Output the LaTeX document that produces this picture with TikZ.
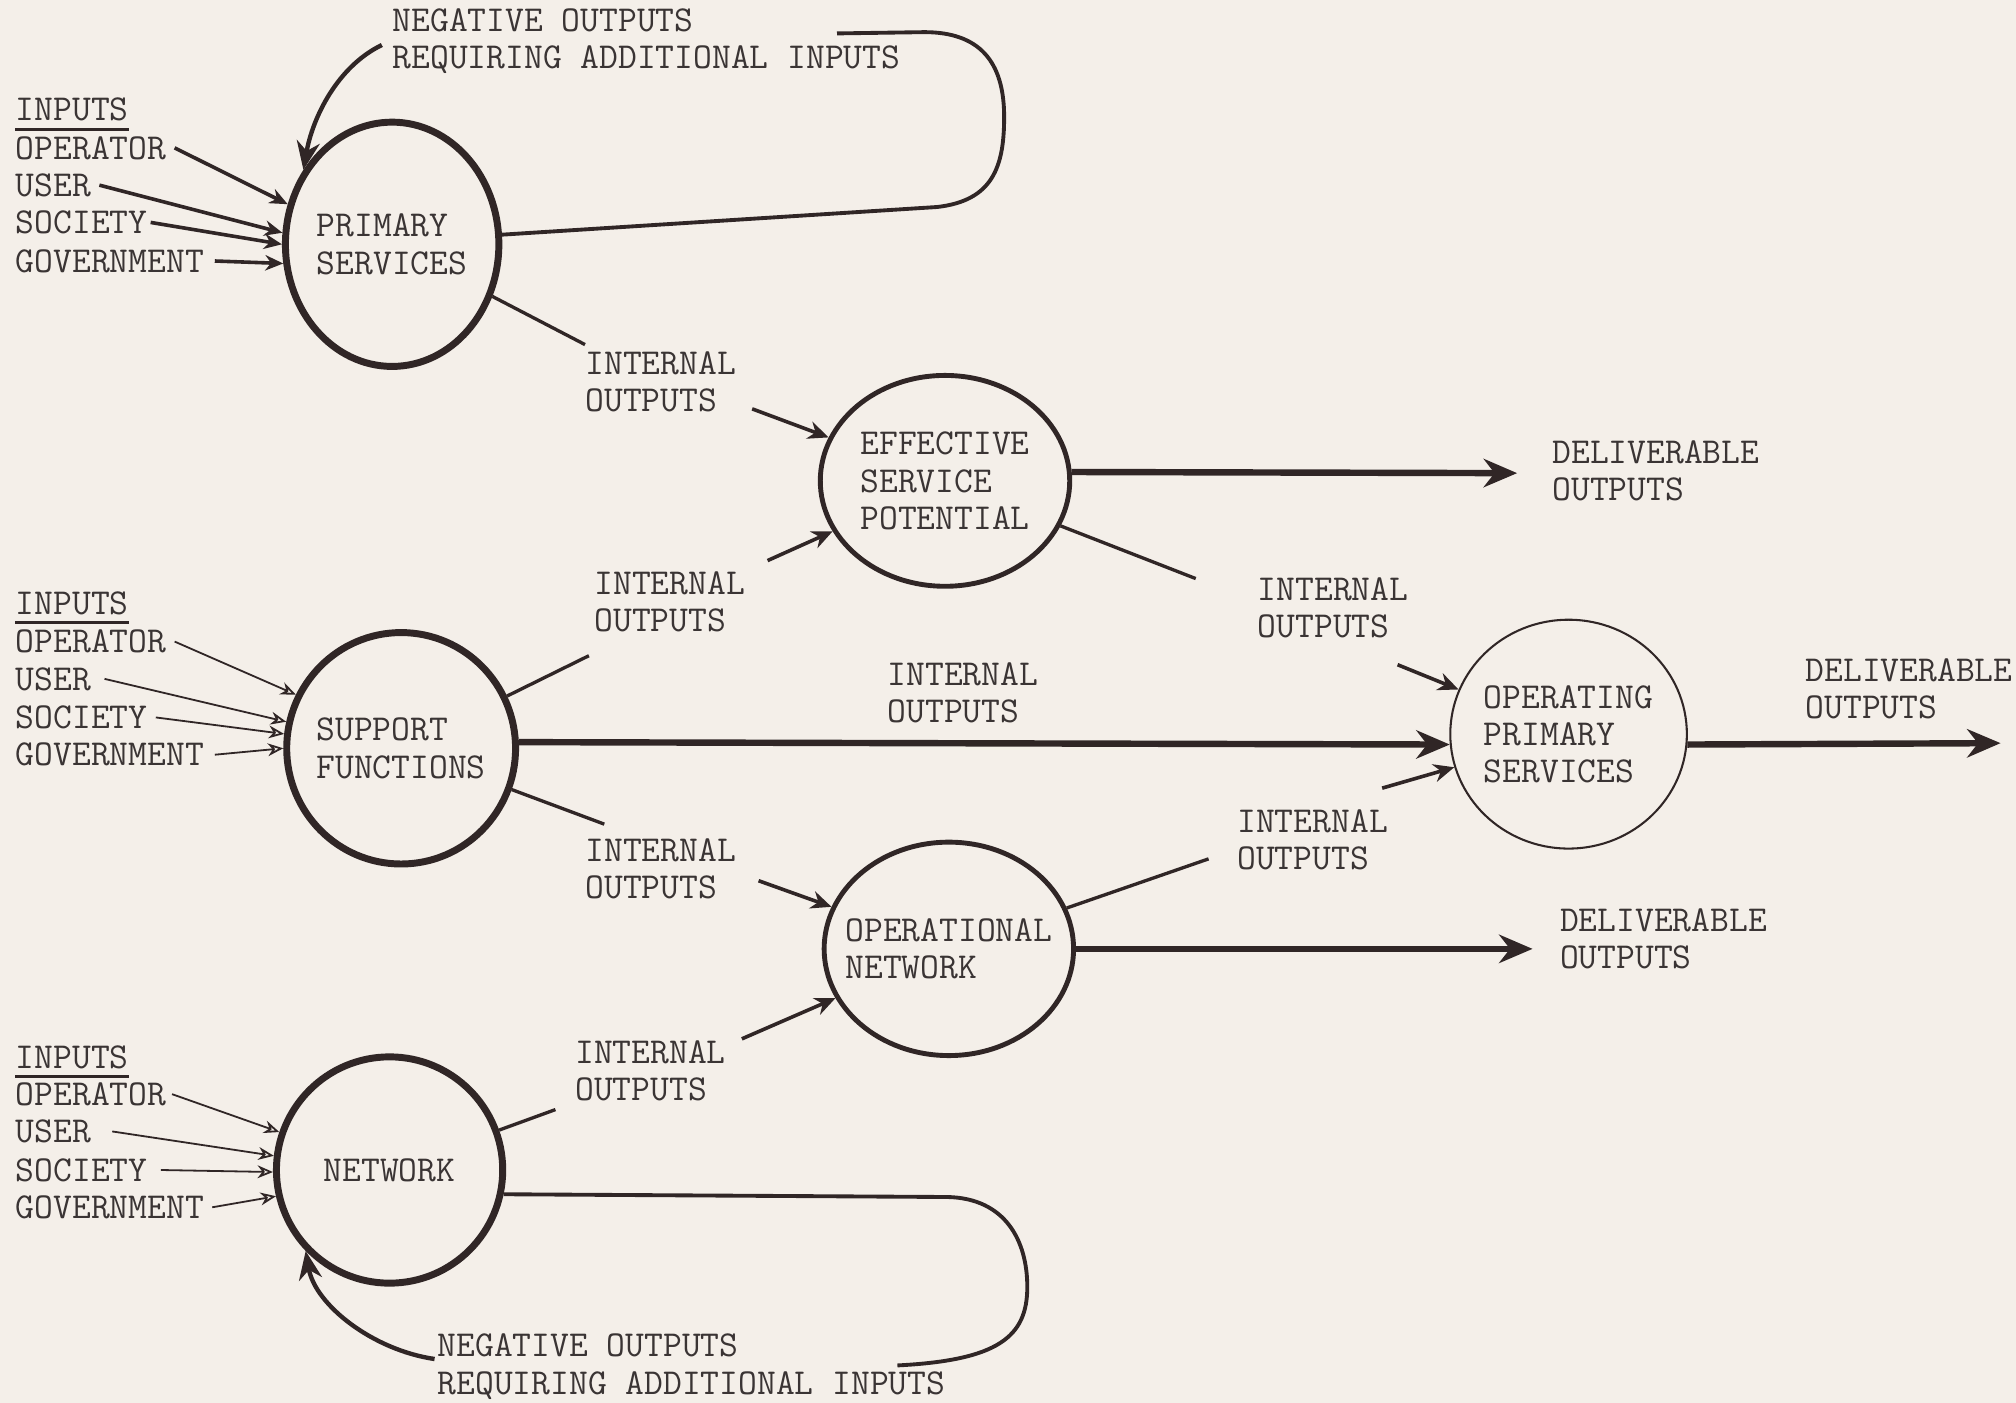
\documentclass[tikz,border=0pt]{standalone}
\usetikzlibrary{shapes.geometric,arrows.meta}
\definecolor{bgc}{RGB}{244,239,233}
\definecolor{inkc}{RGB}{48,38,38}
\definecolor{textc}{RGB}{58,52,52}
\newcommand{\tw}{\fontsize{14.2}{14.5}\selectfont\ttfamily}
\tikzset{
  circ/.style={ellipse, draw=inkc, inner sep=0pt},
  thickcirc/.style={circ, line width=2.7pt},
  medcirc/.style={circ, line width=1.9pt},
  thincirc/.style={circ, line width=0.8pt},
  lbl/.style={font=\tw, text=textc, inner sep=0pt, anchor=west, align=left},
  ctext/.style={font=\tw, text=textc, inner sep=0pt, align=left},
  heavy/.style={draw=inkc, line width=2.5pt, -{Stealth[length=13pt,width=11pt]}},
  loopline/.style={draw=inkc, line width=1.5pt},
  looparrow/.style={draw=inkc, line width=1.7pt, -{Stealth[length=11pt,width=9pt]}},
  outline/.style={draw=inkc, line width=1.3pt},
  inarrow/.style={draw=inkc, line width=1.4pt, -{Stealth[length=8pt,width=7pt]}},
  boldin/.style={draw=inkc, line width=1.4pt, -{Stealth[length=7pt,width=6pt]}},
  thinin/.style={draw=inkc, line width=0.7pt, -{Stealth[length=6pt,width=5pt,open]}},
  uline/.style={draw=inkc, line width=1.1pt},
}
\begin{document}
\begin{tikzpicture}[x=0.5pt,y=-0.5pt]
\fill[bgc] (0,0) rectangle (1568,1091);
\useasboundingbox (0,0) rectangle (1568,1091);

% circles
\node[thickcirc, minimum width=83pt, minimum height=95pt,
  label={[ctext]center:{PRIMARY\\SERVICES}}] (P) at (305,190) {};
\node[medcirc, minimum width=97pt, minimum height=82pt,
  label={[ctext]center:{EFFECTIVE\\SERVICE\\POTENTIAL}}] (E) at (735,374) {};
\node[thickcirc, minimum width=89pt, minimum height=90pt,
  label={[ctext]center:{SUPPORT\\FUNCTIONS}}] (S) at (312,582) {};
\node[thincirc, minimum width=92pt, minimum height=89pt,
  label={[ctext]center:{OPERATING\\PRIMARY\\SERVICES}}] (O) at (1220,571) {};
\node[medcirc, minimum width=97pt, minimum height=83pt,
  label={[ctext]center:{OPERATIONAL\\NETWORK}}] (W) at (738,738) {};
\node[thickcirc, minimum width=88pt, minimum height=88pt,
  label={[ctext]center:{NETWORK}}] (N) at (303,910) {};

% top labels
\node[lbl] (neg1) at (305,32) {NEGATIVE OUTPUTS\\REQUIRING ADDITIONAL INPUTS};
\node[lbl] (neg2) at (340,1063) {NEGATIVE OUTPUTS\\REQUIRING ADDITIONAL INPUTS};

% input groups
\node[lbl] (i1) at (12,85) {INPUTS};
\node[lbl] (o1) at (12,115) {OPERATOR};
\node[lbl] (u1) at (12,144) {USER};
\node[lbl] (s1) at (12,173) {SOCIETY};
\node[lbl] (g1) at (12,203) {GOVERNMENT};
\draw[uline] ([yshift=-3pt]i1.south west) -- ([yshift=-3pt]i1.south east);

\node[lbl] (i2) at (12,469) {INPUTS};
\node[lbl] (o2) at (12,499) {OPERATOR};
\node[lbl] (u2) at (12,528) {USER};
\node[lbl] (s2) at (12,558) {SOCIETY};
\node[lbl] (g2) at (12,587) {GOVERNMENT};
\draw[uline] ([yshift=-3pt]i2.south west) -- ([yshift=-3pt]i2.south east);

\node[lbl] (i3) at (12,822) {INPUTS};
\node[lbl] (o3) at (12,851) {OPERATOR};
\node[lbl] (u3) at (12,880) {USER};
\node[lbl] (s3) at (12,910) {SOCIETY};
\node[lbl] (g3) at (12,939) {GOVERNMENT};
\draw[uline] ([yshift=-3pt]i3.south west) -- ([yshift=-3pt]i3.south east);

% internal / deliverable labels
\node[lbl] (t1) at (455,297) {INTERNAL\\OUTPUTS};
\node[lbl] (t2) at (462,468) {INTERNAL\\OUTPUTS};
\node[lbl] (t3) at (690,539) {INTERNAL\\OUTPUTS};
\node[lbl] (t4) at (455,676) {INTERNAL\\OUTPUTS};
\node[lbl] (t5) at (447,833) {INTERNAL\\OUTPUTS};
\node[lbl] (t6) at (978,473) {INTERNAL\\OUTPUTS};
\node[lbl] (t7) at (962,653) {INTERNAL\\OUTPUTS};
\node[lbl] (d1) at (1207,366) {DELIVERABLE\\OUTPUTS};
\node[lbl] (d2) at (1404,536) {DELIVERABLE\\OUTPUTS};
\node[lbl] (d3) at (1213,730) {DELIVERABLE\\OUTPUTS};

% free ends
\coordinate (a1) at (455,268);
\coordinate (a2) at (585,318);
\coordinate (a3) at (458,510);
\coordinate (a4) at (597,436);
\coordinate (a5) at (1180,368);
\coordinate (a6) at (930,450);
\coordinate (a7) at (1087,517);
\coordinate (a8) at (1075,613);
\coordinate (a9) at (1556,578);
\coordinate (a10) at (470,641);
\coordinate (a11) at (590,685);
\coordinate (a12) at (432,863);
\coordinate (a13) at (577,808);
\coordinate (a14) at (940,668);
\coordinate (a15) at (1192,738);
\coordinate (lp1) at (651,26);
\coordinate (lp2) at (297,35);
\coordinate (lq1) at (698,1062);
\coordinate (lq2) at (338,1057);

% input arrows
\draw[boldin] ([xshift=3pt]o1.east) -- (P.159);
\draw[boldin] ([xshift=3pt]u1.east) -- (P.174);
\draw[boldin] ([xshift=1pt]s1.east) -- (P.180);
\draw[boldin] ([xshift=4pt]g1.east) -- (P.190);

\draw[thinin] ([xshift=3pt]o2.east) -- (S.153);
\draw[thinin] ([xshift=5pt]u2.east) -- (S.167);
\draw[thinin] ([xshift=3pt]s2.east) -- (S.173);
\draw[thinin] ([xshift=4pt]g2.east) -- (S.180);

\draw[thinin] ([xshift=2pt]o3.east) -- (N.161);
\draw[thinin] ([xshift=8pt]u3.east) -- (N.173);
\draw[thinin] ([xshift=5pt]s3.east) -- (N.181);
\draw[thinin] ([xshift=3pt]g3.east) -- (N.193);

% loops
\draw[loopline] (P.5) -- (729,161) .. controls (772,156) and (781,130) .. (781,91)
  .. controls (781,48) and (762,25) .. (719,25) -- (lp1);
\draw[looparrow] (lp2) .. controls (262,52) and (243,92) .. (P.140);

\draw[loopline] (N.-12) -- (737,931) .. controls (782,932) and (799,965) .. (799,1001)
  .. controls (799,1040) and (776,1058) .. (lq1);
\draw[looparrow] (lq2) .. controls (290,1050) and (245,1015) .. (N.-136);

% internal outputs
\draw[outline] (P) -- (a1);
\draw[inarrow] (a2) -- (E);
\draw[outline] (S) -- (a3);
\draw[inarrow] (a4) -- (E);
\draw[heavy] (E.4) -- (a5);
\draw[outline] (E) -- (a6);
\draw[inarrow] (a7) -- (O);
\draw[heavy] (S.3) -- (O.185);
\draw[inarrow] (a8) -- (O);
\draw[heavy] (O.-5) -- (a9);
\draw[outline] (S) -- (a10);
\draw[inarrow] (a11) -- (W);
\draw[outline] (N) -- (a12);
\draw[inarrow] (a13) -- (W);
\draw[outline] (W) -- (a14);
\draw[heavy] (W.0) -- (a15);
\end{tikzpicture}
\end{document}
